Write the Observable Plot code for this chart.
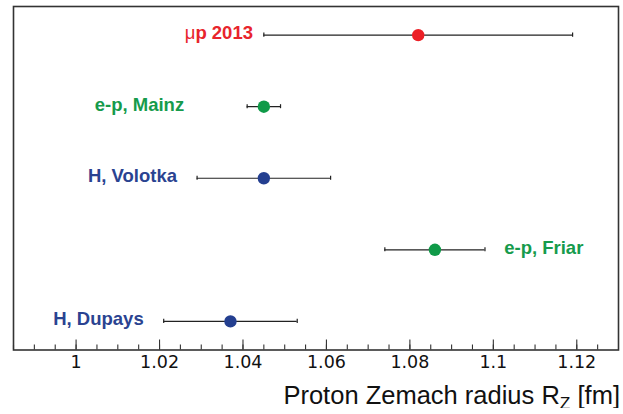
<!DOCTYPE html>
<html>
<head>
<meta charset="utf-8">
<script src="https://cdn.jsdelivr.net/npm/d3@7"></script>
<script src="https://cdn.jsdelivr.net/npm/@observablehq/plot@0.6"></script>
<style>
  html, body { margin: 0; padding: 0; background: #fff; }
  #title { width: 623px; box-sizing: border-box; padding-right: 3px; margin-top: 5px; text-align: right;
           font-family: "Liberation Sans", Arial, sans-serif; font-size: 25.5px; line-height: 25px; color: #111; }
  #title sub { font-size: 0.68em; vertical-align: -0.3em; line-height: 0; }
</style>
</head>
<body>
<div id="chart"></div>
<div id="title">Proton Zemach radius R<sub>Z</sub> [fm]</div>
<script>
// Measurements of the proton Zemach radius (fm)
const labels   = ["μp 2013", "e-p, Mainz", "H, Volotka", "e-p, Friar", "H, Dupays"];
const radius   = [1.082, 1.045, 1.045, 1.086, 1.037];
const errors   = [0.037, 0.004, 0.016, 0.012, 0.016];
const rows     = [5, 4, 3, 2, 1];
const groups   = ["muonic", "scattering", "hydrogen", "scattering", "hydrogen"];
const labelX   = [1.0424, 1.0259, 1.0242, 1.1026, 1.0162];
const labelEnd = ["end", "end", "end", "start", "end"];
const majorTicks = [1, 1.02, 1.04, 1.06, 1.08, 1.1, 1.12];

const colors = {muonic: "#ec1f26", scattering: "#0f9a48", hydrogen: "#243f90"};
const textColors = {muonic: "#e8242c", scattering: "#169b4c", hydrogen: "#2a4391"};

const data = labels.map((label, i) => ({
  label, x: radius[i], e: errors[i], y: rows[i], g: groups[i], lx: labelX[i], anchor: labelEnd[i]
}));

const capHalf = 0.028;
const labelFont = {fontSize: 18.5, fontWeight: "bold", fontFamily: "Liberation Sans"};

const chart = Plot.plot({
  width: 623,
  height: 378,
  marginLeft: 13,
  marginRight: 5,
  marginTop: 6,
  marginBottom: 28.5,
  style: {background: "#fff"},
  x: {domain: [0.985, 1.13]},
  y: {domain: [0.6, 5.4], axis: null},
  marks: [
    Plot.frame({stroke: "#333", strokeWidth: 1.6}),
    Plot.axisX({interval: 0.005, tickSize: 5, dy: -5, text: null, stroke: "#333", strokeWidth: 1.1}),
    Plot.axisX({ticks: majorTicks, tickSize: 10, dy: -10, text: null, stroke: "#333", strokeWidth: 1.1}),
    Plot.axisX({ticks: majorTicks, tickSize: 0, tickPadding: 6, tickFormat: d => d3.format("~g")(d),
                fontSize: 17.5, fontFamily: "DejaVu Sans", fill: "#111"}),
    Plot.ruleY(data, {y: "y", x1: d => d.x - d.e, x2: d => d.x + d.e, stroke: "#222", strokeWidth: 1.2}),
    Plot.ruleX(data, {x: d => d.x - d.e, y1: d => d.y - capHalf, y2: d => d.y + capHalf, stroke: "#222", strokeWidth: 1.2}),
    Plot.ruleX(data, {x: d => d.x + d.e, y1: d => d.y - capHalf, y2: d => d.y + capHalf, stroke: "#222", strokeWidth: 1.2}),
    Plot.dot(data, {x: "x", y: "y", r: 6.2, fill: d => colors[d.g], stroke: "none"}),
    Plot.text(data.filter(d => d.anchor === "end"), {x: "lx", y: "y", text: "label", textAnchor: "end", dy: -2,
               fill: d => textColors[d.g], ...labelFont}),
    Plot.text(data.filter(d => d.anchor === "start"), {x: "lx", y: "y", text: "label", textAnchor: "start", dy: -2,
               fill: d => textColors[d.g], ...labelFont})
  ]
});
// render the Greek mu in a regular (non-bold) weight, as in the original
chart.querySelectorAll("text").forEach(t => {
  const s = t.textContent;
  if (s.startsWith("μ")) {
    t.textContent = "";
    const mu = document.createElementNS("http://www.w3.org/2000/svg", "tspan");
    mu.setAttribute("font-weight", "normal");
    mu.textContent = "μ";
    t.appendChild(mu);
    t.appendChild(document.createTextNode(s.slice(1)));
  }
});
document.getElementById("chart").appendChild(chart);
</script>
</body>
</html>
